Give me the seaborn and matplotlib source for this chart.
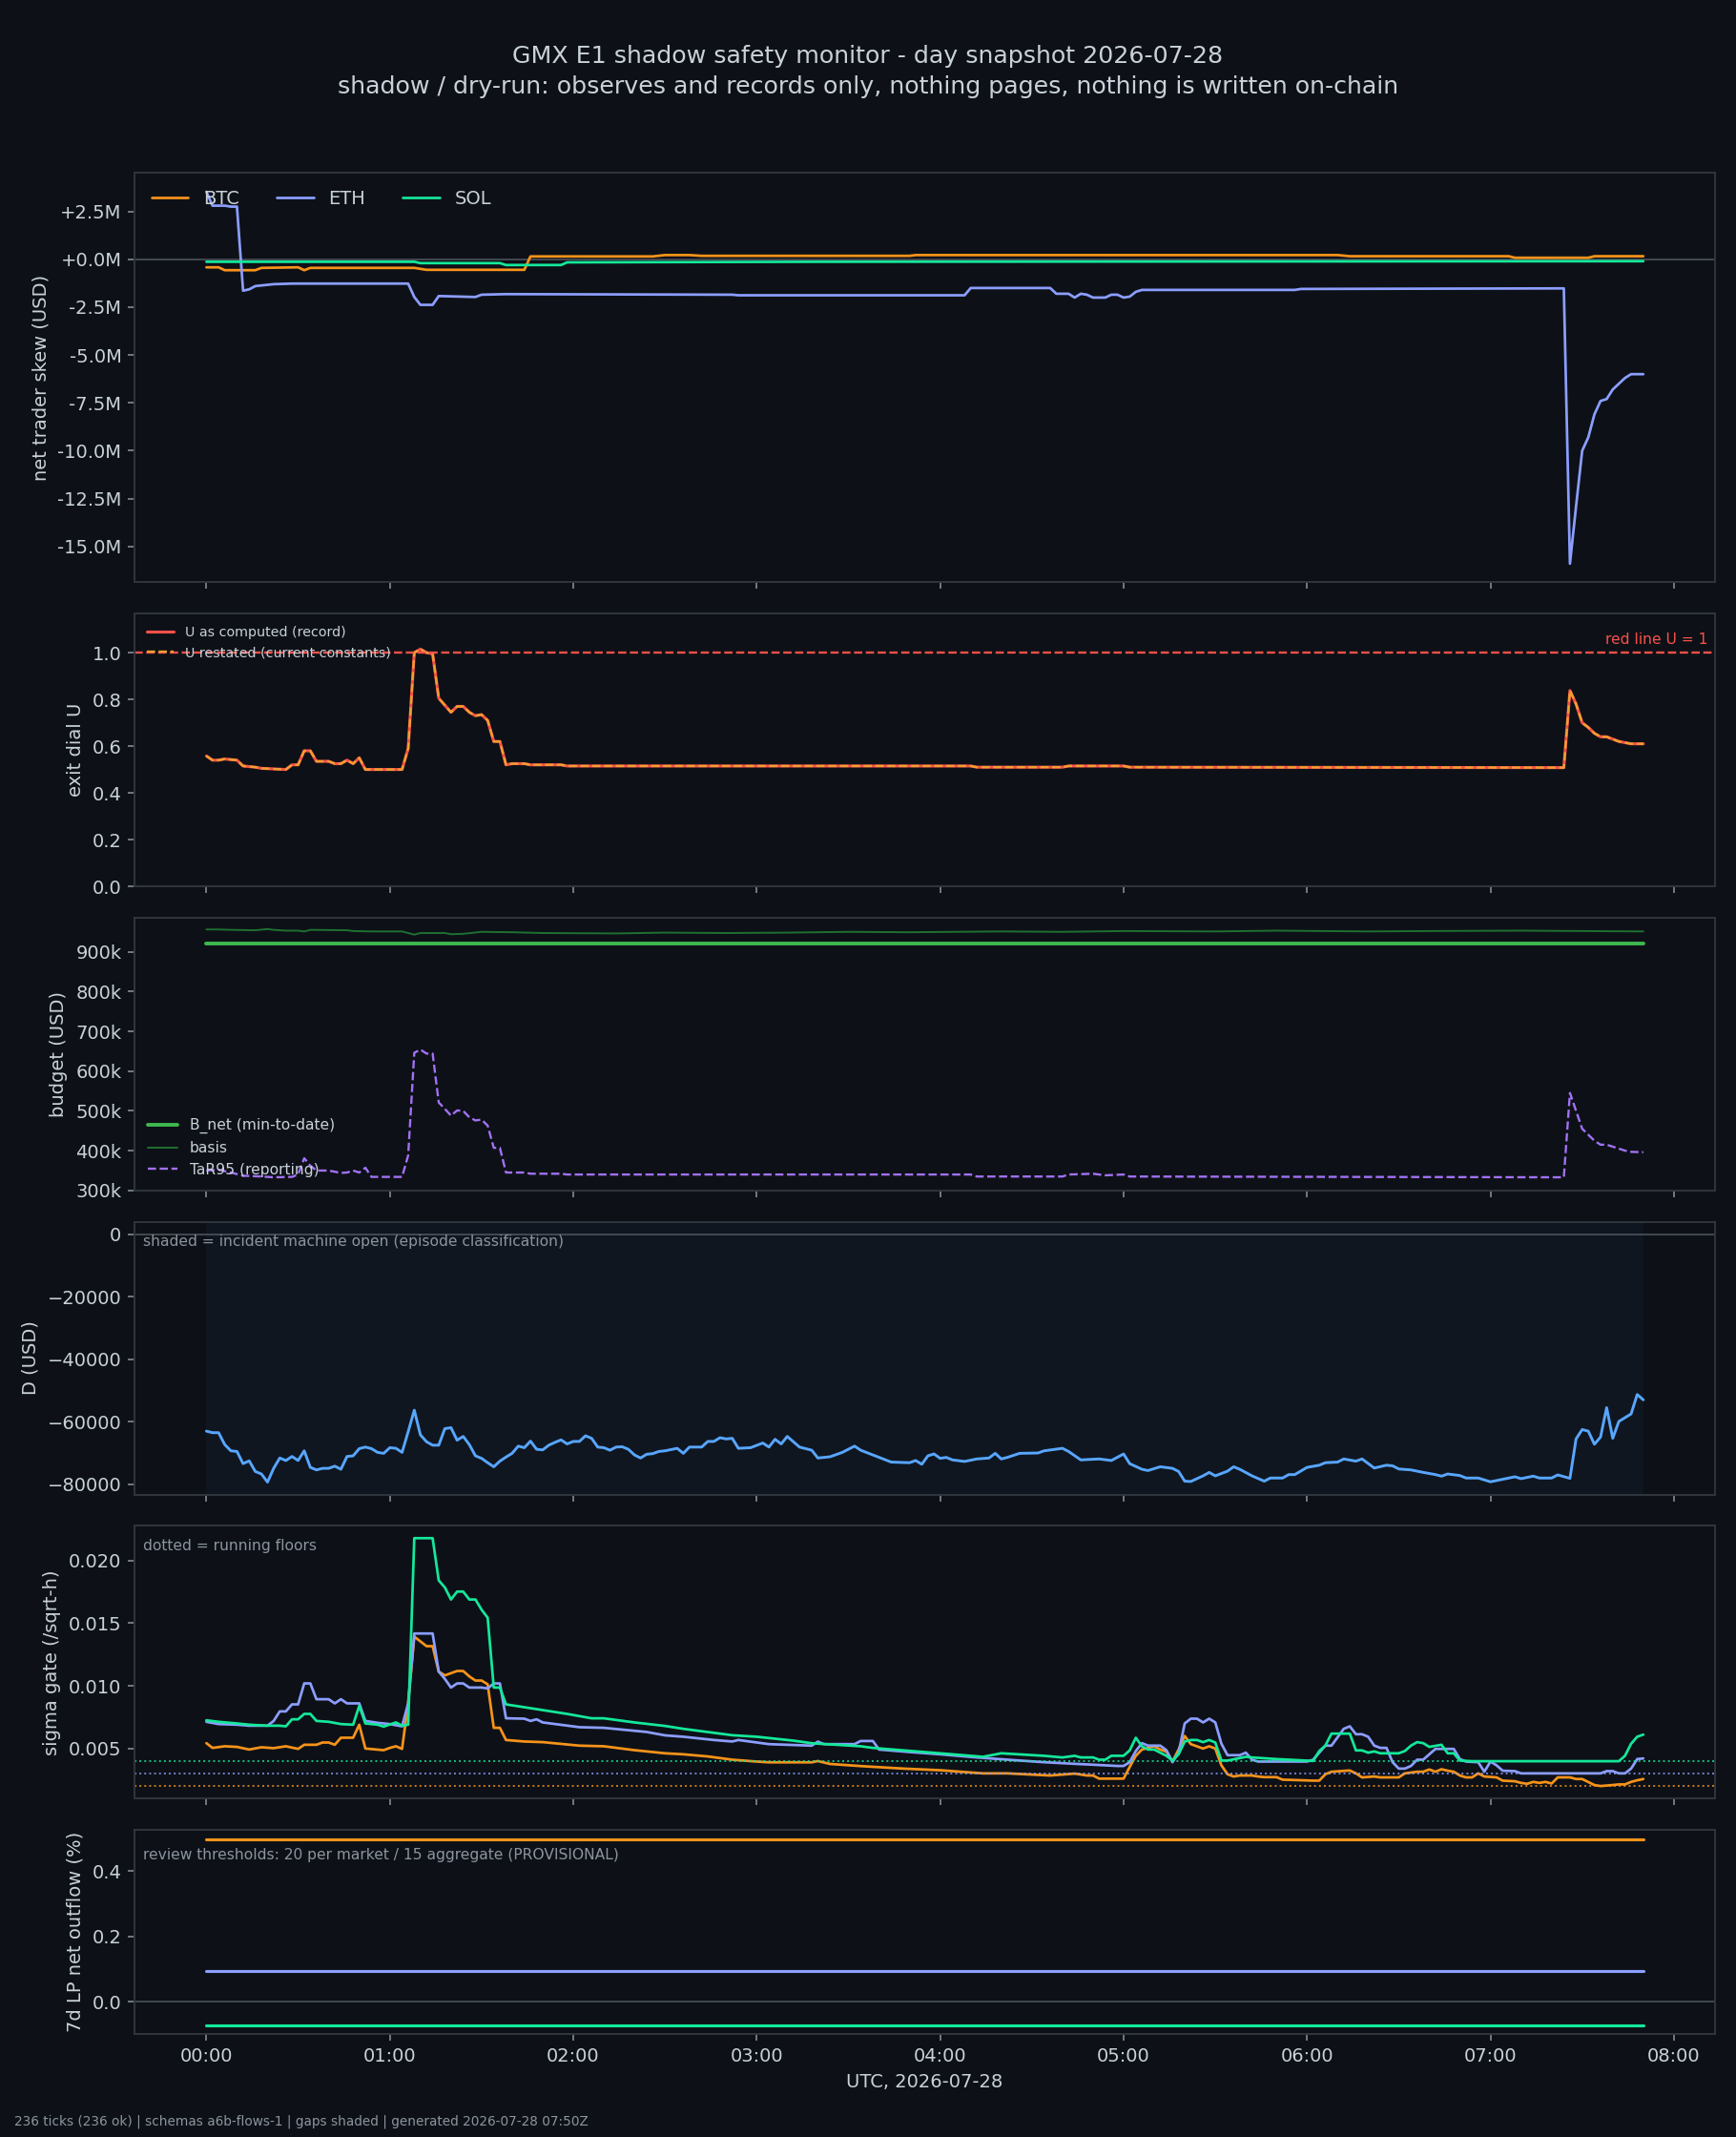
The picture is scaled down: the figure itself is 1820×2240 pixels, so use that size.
import pandas as pd
import matplotlib
matplotlib.use('Agg')
import matplotlib.pyplot as plt
import matplotlib.dates as mdates
from matplotlib.ticker import MultipleLocator, FuncFormatter
import seaborn as sns

DAY = pd.Timestamp('2026-07-28')

markets = ['BTC', 'ETH', 'SOL']
market_colors = ['#f7931a', '#8c9eff', '#14e89a']

# -- net trader skew, millions USD (minute, value) --
skew_btc_t = [0, 4, 6, 16, 18, 30, 32, 34, 68, 70, 72, 104, 106, 146, 150, 158, 162, 230, 232, 370, 374, 426, 428, 452, 454, 470]
skew_btc_v = [-0.42, -0.42, -0.57, -0.57, -0.45, -0.42, -0.57, -0.45, -0.45, -0.5, -0.55, -0.55, 0.15, 0.15, 0.22, 0.22,
              0.18, 0.18, 0.22, 0.22, 0.16, 0.16, 0.08, 0.08, 0.16, 0.16]
skew_eth_t = [0, 2, 6, 8, 10, 12, 14, 16, 22, 28, 66, 68, 70, 74, 76, 88, 90, 98, 172, 174, 248, 250, 276, 278, 282, 284,
              286, 288, 290, 294, 296, 298, 300, 302, 304, 306, 356, 358, 444, 446, 448, 450, 452, 454, 456, 458, 460, 462,
              464, 466, 470]
skew_eth_v = [3.53, 2.8, 2.8, 2.75, 2.75, -1.64, -1.57, -1.4, -1.3, -1.27, -1.27, -1.97, -2.38, -2.38, -1.92, -1.97, -1.85,
              -1.82, -1.85, -1.88, -1.88, -1.5, -1.5, -1.8, -1.8, -2.0, -1.8, -1.85, -2.0, -2.0, -1.85, -1.85, -2.0, -1.95,
              -1.7, -1.6, -1.6, -1.55, -1.52, -15.9, -12.9, -10.0, -9.3, -8.1, -7.4, -7.3, -6.8, -6.5, -6.2, -6.0, -6.0]
skew_sol_t = [0, 68, 70, 96, 98, 116, 118, 200, 470]
skew_sol_v = [-0.13, -0.13, -0.2, -0.2, -0.3, -0.3, -0.16, -0.13, -0.1]

# -- exit dial U --
u_t = [0, 2, 4, 6, 10, 12, 16, 18, 26, 28, 30, 32, 34, 36, 40, 42, 44, 46, 48, 50, 52, 64, 66, 68, 70, 72, 74, 76, 78, 80,
       82, 84, 86, 88, 90, 92, 94, 96, 98, 100, 104, 106, 116, 118, 250, 252, 280, 282, 300, 302, 444, 446, 448, 450, 452,
       454, 456, 458, 460, 462, 464, 466, 470]
u_v = [0.558, 0.54, 0.54, 0.545, 0.54, 0.515, 0.51, 0.505, 0.50, 0.52, 0.52, 0.58, 0.58, 0.535, 0.535, 0.525, 0.525, 0.54,
       0.525, 0.55, 0.50, 0.50, 0.59, 1.0, 1.015, 1.0, 0.995, 0.805, 0.775, 0.745, 0.77, 0.77, 0.745, 0.73, 0.735, 0.71,
       0.62, 0.62, 0.52, 0.525, 0.525, 0.52, 0.52, 0.515, 0.515, 0.51, 0.51, 0.515, 0.515, 0.51, 0.508, 0.838, 0.78, 0.70,
       0.68, 0.655, 0.64, 0.64, 0.63, 0.62, 0.615, 0.61, 0.61]
u_restated_v = list(u_v)

# -- budget (k USD) --
bnet_t = [0, 470]
bnet_v = [920, 920]
basis_t = [0, 4, 8, 16, 20, 22, 26, 30, 32, 34, 46, 48, 54, 64, 68, 70, 78, 80, 84, 90, 100, 110, 134, 150, 170, 190, 210,
           230, 260, 280, 300, 330, 350, 380, 400, 430, 450, 470]
basis_v = [956, 956, 955, 954, 957, 955, 953, 953, 951, 955, 954, 952, 951, 951, 943, 947, 947, 944, 945, 950, 949, 947, 946,
           948, 947, 948, 950, 949, 951, 950, 952, 951, 953, 951, 952, 953, 952, 951]
tar_t = [0, 4, 8, 12, 18, 22, 28, 30, 32, 34, 36, 40, 44, 46, 48, 50, 52, 54, 64, 66, 68, 70, 72, 74, 76, 78, 80, 82, 84, 86,
         88, 90, 92, 94, 96, 98, 100, 104, 106, 116, 118, 250, 252, 280, 282, 290, 294, 300, 302, 444, 446, 448, 450, 452,
         454, 456, 458, 460, 462, 464, 466, 470]
tar_v = [350, 352, 345, 337, 335, 333, 334, 340, 381, 362, 350, 350, 344, 345, 350, 345, 357, 334, 334, 388, 646, 654, 644,
         644, 521, 505, 488, 501, 500, 484, 476, 478, 463, 407, 407, 345, 345, 345, 342, 342, 340, 340, 335, 335, 340, 342,
         338, 340, 335, 333, 545, 500, 455, 440, 425, 415, 415, 410, 405, 400, 397, 396]

# -- D (k USD) --
d_t = [0, 2, 4, 6, 8, 10, 12, 14, 16, 18, 20, 22, 24, 26, 28, 30, 32, 34, 36, 38, 40, 42, 44, 46, 48, 50, 52, 54, 56, 58,
       60, 62, 64, 66, 68, 70, 72, 74, 76, 78, 80, 82, 84, 86, 88, 90, 92, 94, 96, 98, 100, 102, 104, 106, 108, 110, 112,
       114, 116, 118, 120, 122, 124, 126, 128, 130, 132, 134, 136, 138, 140, 142, 144, 146, 148, 150, 154, 156, 158, 162,
       164, 166, 168, 170, 172, 174, 178, 182, 184, 186, 188, 190, 194, 198, 200, 204, 208, 212, 214, 220, 224, 230, 232,
       234, 236, 238, 240, 242, 244, 248, 252, 256, 258, 260, 262, 266, 272, 274, 280, 282, 286, 292, 296, 300, 302, 306,
       308, 312, 316, 318, 320, 322, 326, 328, 330, 334, 336, 338, 342, 346, 348, 352, 354, 356, 360, 364, 366, 370, 372,
       376, 378, 382, 386, 388, 390, 394, 398, 402, 404, 406, 410, 412, 416, 420, 424, 428, 430, 434, 436, 440, 442, 446,
       448, 450, 452, 454, 456, 458, 460, 462, 466, 468, 470]
d_v = [-63.0, -63.5, -63.5, -67.3, -69.3, -69.5, -73.4, -72.5, -75.9, -76.7, -79.3, -74.9, -71.6, -72.4, -71.1, -72.4,
       -69.3, -74.6, -75.4, -74.9, -74.9, -74.2, -75.2, -71.1, -70.9, -68.6, -68.1, -68.6, -69.8, -70.1, -68.3, -68.5,
       -69.8, -63.2, -56.3, -64.2, -66.4, -67.5, -67.5, -62.2, -61.9, -65.9, -64.7, -67.3, -70.9, -71.7, -73.1, -74.4,
       -72.6, -71.3, -70.1, -67.8, -68.3, -66.2, -68.8, -69.0, -67.5, -66.6, -65.8, -67.1, -66.3, -66.3, -64.5, -65.3,
       -68.1, -68.3, -69.1, -68.1, -68.0, -68.8, -70.6, -71.6, -70.4, -70.2, -69.5, -69.3, -68.5, -70.1, -68.1, -68.1,
       -66.3, -66.3, -65.1, -65.5, -65.3, -68.5, -68.3, -66.8, -68.1, -65.6, -67.1, -64.7, -68.1, -69.1, -71.6, -71.2,
       -69.8, -67.8, -69.1, -71.4, -72.9, -73.1, -72.4, -73.6, -70.9, -70.3, -71.7, -71.4, -72.2, -72.7, -71.9, -71.6,
       -70.1, -71.9, -71.4, -70.1, -70.0, -69.3, -68.5, -69.5, -72.2, -71.9, -72.4, -70.3, -73.4, -75.2, -75.6, -74.4,
       -74.9, -75.9, -79.0, -79.1, -77.3, -76.2, -77.3, -75.8, -74.4, -75.2, -77.3, -79.0, -78.0, -78.0, -76.9, -76.9,
       -74.6, -73.9, -73.1, -72.9, -71.9, -72.6, -71.9, -74.8, -73.9, -74.1, -75.1, -75.4, -76.2, -76.9, -77.4, -76.7,
       -77.2, -78.0, -78.0, -79.2, -78.4, -77.6, -78.2, -77.4, -78.0, -78.0, -77.0, -78.1, -65.5, -62.5, -63.0, -67.2,
       -64.9, -55.5, -65.3, -59.9, -57.5, -51.3, -53.0]

# -- sigma gate (/sqrt-h) --
sig_btc_t = [0, 2, 6, 10, 14, 18, 22, 26, 30, 32, 36, 38, 40, 42, 44, 48, 50, 52, 58, 60, 62, 64, 66, 68, 72, 74, 76, 78,
             82, 84, 86, 88, 90, 92, 94, 96, 98, 104, 110, 122, 130, 140, 150, 156, 164, 172, 180, 184, 198, 200, 204, 214,
             228, 240, 254, 262, 276, 284, 288, 290, 292, 300, 302, 304, 306, 310, 312, 314, 316, 318, 320, 322, 326, 328,
             330, 332, 334, 336, 338, 342, 344, 346, 350, 352, 362, 364, 366, 368, 374, 376, 378, 382, 384, 390, 392, 396,
             398, 400, 402, 404, 406, 408, 410, 412, 414, 416, 418, 422, 424, 428, 430, 432, 434, 436, 438, 440, 442, 446,
             448, 450, 454, 456, 460, 462, 464, 466, 468, 470]
sig_btc_v = [.00543, .00505, .00518, .00513, .00492, .0051, .00503, .00518, .00497, .0053, .0053, .00548, .00548, .0053,
             .00586, .00586, .0069, .005, .00487, .00505, .00518, .00497, .0086, .01392, .01316, .01316, .01113, .01083,
             .01118, .01118, .01075, .01042, .01042, .01012, .00665, .00665, .00568, .00556, .00551, .00523, .00518,
             .00487, .00462, .00454, .00437, .00411, .00396, .0039, .0039, .004, .00377, .0036, .0034, .00327, .00302,
             .00302, .00285, .003, .00285, .00285, .0026, .0026, .00353, .00442, .00492, .00518, .00492, .00475, .00396,
             .00492, .006, .00535, .005, .00518, .005, .00366, .00295, .00277, .00285, .00285, .00277, .00272, .00272,
             .00252, .00244, .00244, .00295, .00315, .00325, .00302, .0027, .00277, .0027, .0027, .00302, .00315, .00315,
             .00333, .00315, .00335, .00323, .00315, .00285, .0027, .0027, .00302, .00277, .0027, .00244, .00239, .00226,
             .00219, .00234, .00226, .00234, .00221, .0027, .0027, .00257, .00257, .00209, .00201, .00209, .00214, .00214,
             .00234, .00247, .00257]
sig_eth_t = [0, 4, 10, 14, 20, 22, 24, 26, 28, 30, 32, 34, 36, 40, 42, 44, 46, 50, 52, 56, 60, 64, 66, 68, 74, 76, 78, 80,
             82, 84, 86, 88, 90, 92, 94, 96, 98, 104, 106, 108, 110, 122, 130, 144, 150, 156, 166, 172, 174, 184, 198, 200,
             202, 212, 214, 218, 220, 230, 240, 252, 262, 274, 284, 290, 298, 300, 302, 304, 306, 308, 312, 314, 316, 318,
             320, 322, 324, 326, 328, 330, 332, 334, 338, 340, 342, 344, 360, 362, 366, 368, 372, 374, 376, 378, 380, 382,
             384, 386, 388, 390, 392, 394, 396, 398, 402, 408, 410, 412, 416, 418, 420, 422, 424, 428, 430, 456, 458, 460,
             462, 464, 466, 468, 470]
sig_eth_v = [.00713, .00695, .0069, .00682, .00682, .0072, .00796, .00796, .00852, .00852, .01019, .01019, .00893, .00893,
             .0086, .00893, .0086, .0086, .0072, .00705, .00695, .00677, .0086, .01417, .01417, .01113, .01055, .00986,
             .01019, .01019, .00986, .00986, .00986, .00979, .01019, .01019, .00741, .00738, .0072, .00733, .00708, .0067,
             .00665, .00632, .00605, .00594, .00568, .00556, .00568, .00535, .00523, .00555, .00535, .00535, .0056, .0056,
             .00492, .00472, .00454, .00429, .00411, .00391, .00378, .00371, .00361, .00361, .00391, .0048, .00543, .00523,
             .00523, .00487, .00391, .00467, .007, .00738, .00738, .00708, .00738, .00708, .00538, .00447, .00447, .00467,
             .00411, .00396, .00396, .00411, .00523, .00523, .00657, .00677, .00614, .00614, .00594, .00523, .00505,
             .00505, .00391, .0034, .0034, .00361, .00411, .00411, .00497, .00497, .00416, .00396, .00391, .00315, .00396,
             .00366, .00323, .0032, .00302, .00302, .0032, .0032, .00302, .00302, .0034, .00416, .00421]
sig_sol_t = [0, 4, 10, 14, 20, 24, 26, 28, 30, 32, 34, 36, 40, 44, 48, 50, 52, 56, 58, 62, 64, 66, 68, 74, 76, 78, 80, 82,
             84, 86, 88, 90, 92, 94, 96, 98, 108, 118, 126, 130, 140, 150, 156, 172, 180, 192, 198, 214, 218, 240, 254, 260,
             274, 280, 284, 286, 290, 292, 294, 296, 300, 302, 304, 306, 308, 310, 314, 316, 318, 320, 322, 324, 326, 328,
             330, 332, 334, 338, 340, 342, 350, 362, 364, 366, 368, 374, 376, 378, 380, 382, 384, 390, 392, 394, 396, 398,
             400, 404, 406, 408, 410, 414, 462, 464, 466, 468, 470]
sig_sol_v = [.00725, .00713, .007, .0069, .00682, .00682, .00677, .00733, .00733, .00776, .00776, .0072, .00713, .00695,
             .0069, .0084, .007, .0069, .00675, .00708, .00682, .0069, .02177, .02177, .0184, .01784, .01688, .01751,
             .01751, .01688, .01688, .01607, .01543, .00986, .00986, .00852, .00814, .00776, .00741, .00741, .00708, .0068,
             .00657, .00606, .00594, .00563, .00542, .00518, .00505, .00462, .00434, .00462, .00442, .00429, .00442,
             .00429, .00429, .00411, .00411, .00442, .00442, .00485, .00586, .00518, .00492, .00492, .00442, .00404,
             .00454, .00556, .00568, .00568, .00551, .00568, .00548, .00404, .00404, .00424, .00434, .00429, .00416,
             .00401, .0048, .00523, .00619, .00619, .00485, .00485, .00467, .00477, .00462, .00462, .0048, .00523, .00551,
             .00543, .00513, .0053, .00462, .00462, .00404, .00399, .00399, .00442, .00538, .00594, .00611]
sigma_floors = [0.0020, 0.0030, 0.0040]

# -- 7d LP net outflow (%) --
lp_t = [0, 470]
lp_btc_v = [0.497, 0.497]
lp_eth_v = [0.095, 0.095]
lp_sol_v = [-0.071, -0.071]

title = ('GMX E1 shadow safety monitor - day snapshot 2026-07-28\n'
         'shadow / dry-run: observes and records only, nothing pages, nothing is written on-chain')
footer = '236 ticks (236 ok) | schemas a6b-flows-1 | gaps shaded | generated 2026-07-28 07:50Z'

BG = '#0d1117'
FG = '#c9d1d9'
MUTED = '#8b949e'
ZERO = '#484f58'

sns.set_theme(style='dark', rc={
    'figure.facecolor': BG, 'axes.facecolor': BG, 'axes.edgecolor': '#30363d',
    'axes.labelcolor': FG, 'text.color': FG, 'xtick.color': MUTED, 'ytick.color': MUTED,
    'xtick.labelcolor': FG, 'ytick.labelcolor': FG, 'axes.grid': False,
    'xtick.bottom': True, 'ytick.left': True, 'xtick.major.size': 3.5, 'ytick.major.size': 3.5,
    'xtick.major.width': 0.8, 'ytick.major.width': 0.8, 'axes.linewidth': 1.0,
    'font.size': 10, 'axes.labelsize': 10, 'xtick.labelsize': 10, 'ytick.labelsize': 10,
    'legend.fontsize': 10,
})
plt.rcParams['font.family'] = ['DejaVu Sans']


def tt(mins):
    return DAY + pd.to_timedelta(mins, unit='min')


def line(ax, t, v, **kw):
    sns.lineplot(x=tt(t), y=v, ax=ax, errorbar=None, **kw)


fig, axes = plt.subplots(6, 1, figsize=(13, 16), dpi=140, sharex=True,
                         gridspec_kw=dict(height_ratios=[1.5, 1, 1, 1, 1, 0.75], hspace=0.11))
fig.subplots_adjust(left=0.0775, right=0.988, top=0.919, bottom=0.048)
ax1, ax2, ax3, ax4, ax5, ax6 = axes

# -- panel 1: net trader skew --
ax1.axhline(0, color=ZERO, lw=0.9)
skews = [(skew_btc_t, skew_btc_v), (skew_eth_t, skew_eth_v), (skew_sol_t, skew_sol_v)]
for name, col, (t, v) in zip(markets, market_colors, skews):
    line(ax1, t, [x * 1e6 for x in v], color=col, lw=1.4, label=name)
ax1.yaxis.set_major_locator(MultipleLocator(2.5e6))
ax1.yaxis.set_major_formatter(FuncFormatter(lambda v, p: f'{v / 1e6:+.1f}M'))
ax1.set_ylabel('net trader skew (USD)')
ax1.legend(loc='upper left', ncol=3, frameon=False, fontsize=10)

# -- panel 2: exit dial U --
line(ax2, u_t, u_v, color='#f85149', lw=1.6, label='U as computed (record)')
line(ax2, u_t, u_restated_v, color='#f0a030', lw=1.2, linestyle='--', label='U restated (current constants)')
ax2.axhline(1.0, color='#f85149', lw=1.2, linestyle='--')
ax2.annotate('red line U = 1', xy=(1, 1.0), xycoords=('axes fraction', 'data'), xytext=(-4, 3),
             textcoords='offset points', ha='right', va='bottom', color='#f85149', fontsize=8)
ax2.set_ylim(0, max(u_v) * 1.15)
ax2.yaxis.set_major_locator(MultipleLocator(0.2))
ax2.set_ylabel('exit dial U')
ax2.legend(loc='upper left', frameon=False, fontsize=7.3)

# -- panel 3: budget --
line(ax3, bnet_t, [x * 1e3 for x in bnet_v], color='#3fb950', lw=2.0, label='B_net (min-to-date)')
line(ax3, basis_t, [x * 1e3 for x in basis_v], color='#1f6f30', lw=1.0, label='basis')
line(ax3, tar_t, [x * 1e3 for x in tar_v], color='#a371f7', lw=1.2, linestyle='--', label='TaR95 (reporting)')
ax3.set_ylim(3e5, max(basis_v) * 1e3 * 1.03)
ax3.yaxis.set_major_locator(MultipleLocator(1e5))
ax3.yaxis.set_major_formatter(FuncFormatter(lambda v, p: f'{v / 1e3:.0f}k'))
ax3.set_ylabel('budget (USD)')
ax3.legend(loc='lower left', frameon=False, fontsize=8)

# -- panel 4: D --
ax4.axvspan(tt(d_t[0]), tt(d_t[-1]), color='#58a6ff', alpha=0.04, lw=0)
ax4.axhline(0, color=ZERO, lw=0.9)
line(ax4, d_t, [x * 1e3 for x in d_v], color='#58a6ff', lw=1.5)
ax4.yaxis.set_major_locator(MultipleLocator(20000))
ax4.set_ylabel('D (USD)')
ax4.annotate('shaded = incident machine open (episode classification)', xy=(0, 1), xycoords='axes fraction',
             xytext=(4.5, -7), textcoords='offset points', ha='left', va='top', color=MUTED, fontsize=8)

# -- panel 5: sigma gate --
sigmas = [(sig_btc_t, sig_btc_v), (sig_eth_t, sig_eth_v), (sig_sol_t, sig_sol_v)]
for col, (t, v), fl in zip(market_colors, sigmas, sigma_floors):
    line(ax5, t, v, color=col, lw=1.4)
    ax5.axhline(fl, color=col, lw=1.0, linestyle=':', alpha=0.8)
ax5.yaxis.set_major_locator(MultipleLocator(0.005))
ax5.set_ylabel('sigma gate (/sqrt-h)')
ax5.annotate('dotted = running floors', xy=(0, 1), xycoords='axes fraction',
             xytext=(4.5, -7), textcoords='offset points', ha='left', va='top', color=MUTED, fontsize=8)

# -- panel 6: LP outflow --
ax6.axhline(0, color=ZERO, lw=0.9)
for col, v in zip(market_colors, [lp_btc_v, lp_eth_v, lp_sol_v]):
    line(ax6, lp_t, v, color=col, lw=1.6)
ax6.yaxis.set_major_locator(MultipleLocator(0.2))
ax6.set_ylabel('7d LP net outflow (%)')
ax6.annotate('review thresholds: 20 per market / 15 aggregate (PROVISIONAL)', xy=(0, 1), xycoords='axes fraction',
             xytext=(4.5, -10), textcoords='offset points', ha='left', va='top', color=MUTED, fontsize=8)

ax6.xaxis.set_major_locator(mdates.HourLocator())
ax6.xaxis.set_major_formatter(mdates.DateFormatter('%H:%M'))
ax6.set_xlabel('UTC, 2026-07-28')
for ax in axes:
    ax.tick_params(axis='x', which='both', bottom=True)

fig.suptitle(title, fontsize=13, color=FG, y=0.979, linespacing=1.4)
fig.text(0.008, 0.004, footer, fontsize=7, color=MUTED, ha='left', va='bottom')

fig.savefig('out.png', dpi=140, facecolor=BG)
